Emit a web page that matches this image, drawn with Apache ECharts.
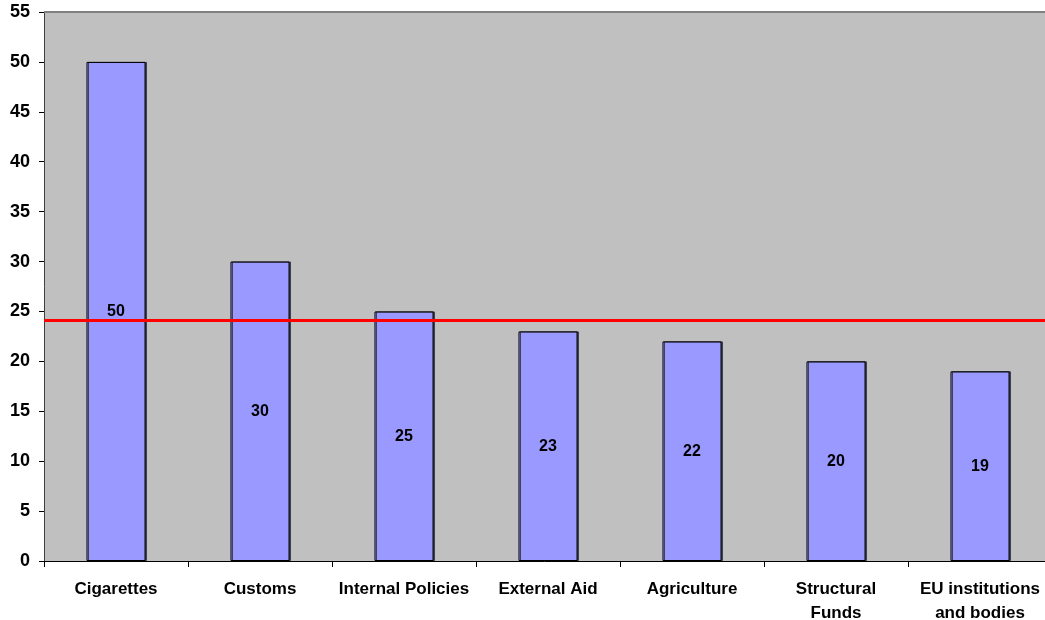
<!DOCTYPE html>
<html><head><meta charset="utf-8">
<script src="https://cdn.jsdelivr.net/npm/echarts@6/dist/echarts.min.js"></script>
<style>html,body{margin:0;padding:0;background:#fff}#c{width:1045px;height:620px}</style>
</head><body><div id="c"></div>
<script>
var categories = ['Cigarettes','Customs','Internal Policies','External Aid','Agriculture','Structural\nFunds','EU institutions\nand bodies'];
var values = [50,30,25,23,22,20,19];
var averageLine = 24.15;
var yTicks = {min:0, max:55, interval:5};

var chart = echarts.init(document.getElementById('c'));
var font = 'Liberation Sans, Arial, sans-serif';
chart.setOption({
  animation:false,
  grid:{left:44, right:-7, top:12, bottom:59, show:true, backgroundColor:'#C0C0C0', borderWidth:0, outerBoundsMode:'none', containLabel:false},
  xAxis:{
    type:'category', data:categories, boundaryGap:true,
    axisLine:{lineStyle:{color:'#000', width:1}},
    axisTick:{show:true, length:6, lineStyle:{color:'#000'}},
    axisLabel:{color:'#000', fontFamily:font, fontWeight:'bold', fontSize:17, margin:16, lineHeight:24, interval:0}
  },
  yAxis:{
    type:'value', min:yTicks.min, max:yTicks.max, interval:yTicks.interval,
    splitLine:{show:false},
    axisLine:{show:true, lineStyle:{color:'#404040', width:1}},
    axisTick:{show:true, length:5, lineStyle:{color:'#000'}},
    axisLabel:{color:'#000', fontFamily:font, fontWeight:'bold', fontSize:18, margin:14}
  },
  series:[{
    type:'bar', data:values, barWidth:'41%',
    itemStyle:{color:'#9999FF', borderColor:'#000', borderWidth:1, shadowColor:'#404050', shadowOffsetX:1.5, shadowOffsetY:0, shadowBlur:0},
    label:{show:true, position:'inside', color:'#000', fontFamily:font, fontWeight:'bold', fontSize:16},
    markLine:{
      silent:true, symbol:['none','none'],
      label:{show:false},
      lineStyle:{color:'#FF0000', width:3, type:'solid'},
      data:[{yAxis:averageLine}]
    }
  }],
  graphic:[{type:'line', shape:{x1:44,y1:12,x2:1045,y2:12}, style:{stroke:'#808080', lineWidth:2}, z:10}]
});
</script></body></html>
